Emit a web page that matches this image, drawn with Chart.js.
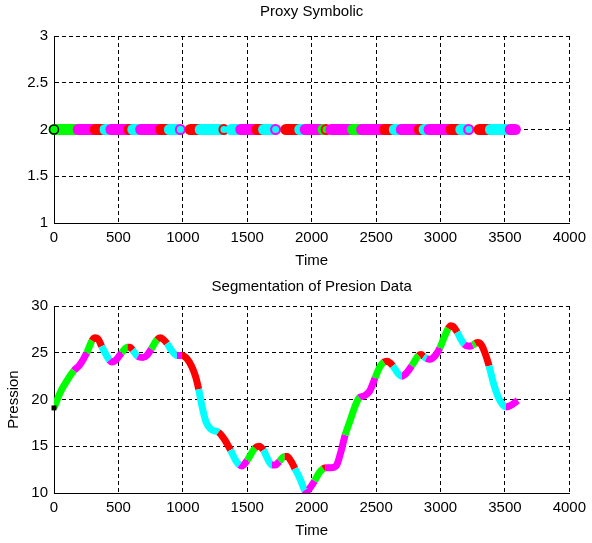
<!DOCTYPE html>
<html>
<head>
<meta charset="utf-8">
<script src="https://cdn.jsdelivr.net/npm/chart.js@4.4.1/dist/chart.umd.min.js"></script>
<style>
  html, body { margin: 0; padding: 0; background: #fff; }
  #wrap { position: relative; width: 592px; height: 543px; overflow: hidden; }
  .box { position: absolute; left: 0; width: 592px; }
  #topBox { top: 0; height: 272px; }
  #botBox { top: 270px; height: 273px; }
</style>
</head>
<body>
<div id="wrap">
  <div class="box" id="topBox"><canvas id="proxy" width="592" height="272"></canvas></div>
  <div class="box" id="botBox"><canvas id="pres" width="592" height="273"></canvas></div>
</div>
<script>
// Axis ticks
const timeTicks = [0, 500, 1000, 1500, 2000, 2500, 3000, 3500, 4000];
const symbolTicks = [1, 1.5, 2, 2.5, 3];
const pressionTicks = [10, 15, 20, 25, 30];

// Symbol colours (MATLAB style)
const PALETTE = { g: '#00ff00', m: '#ff00ff', r: '#ff0000', c: '#00ffff' };

// Proxy symbolic sequence: runs of one symbol, all sitting on level 2.
// A run whose first and last time are equal is a single hollow marker.
const SYMBOL_LEVEL = 2;
const symFirst = [0, 188, 319, 396, 442, 581, 612, 673, 827, 896, 981, 1058, 1135, 1319, 1373, 1450, 1573, 1627, 1720, 1800,
                  1908, 1950, 2089, 2112, 2150, 2319, 2388, 2565, 2642, 2696, 2835, 2873, 2911, 3081, 3158, 3219, 3300, 3388, 3542];
const symLast  = [178, 309, 386, 432, 571, 602, 663, 817, 886, 971, 981, 1125, 1309, 1319, 1440, 1563, 1617, 1710, 1720, 1898,
                  1940, 2079, 2102, 2112, 2309, 2378, 2555, 2632, 2686, 2825, 2863, 2901, 3071, 3148, 3209, 3219, 3378, 3532, 3581];
const symColor = ['g', 'm', 'r', 'c', 'm', 'r', 'c', 'm', 'r', 'c', 'm', 'r', 'c', 'r', 'c', 'm', 'r', 'c', 'm', 'r',
                  'c', 'm', 'g', 'r', 'm', 'g', 'm', 'r', 'c', 'm', 'r', 'c', 'm', 'r', 'c', 'm', 'r', 'c', 'm'];

// Pression signal
const pressTime = [0, 50, 100, 155, 200, 255, 295, 320, 345, 370,
  400, 430, 450, 480, 525, 570, 590, 610, 650, 690,
  720, 755, 800, 825, 850, 877, 910, 954, 992, 1030,
  1070, 1100, 1123, 1150, 1180, 1220, 1277, 1320, 1370, 1410,
  1440, 1460, 1500, 1560, 1590, 1625, 1660, 1690, 1720, 1750,
  1790, 1810, 1840, 1870, 1910, 1946, 1960, 2000, 2023, 2060,
  2090, 2105, 2150, 2190, 2225, 2260, 2300, 2340, 2370, 2410,
  2450, 2492, 2530, 2560, 2585, 2610, 2630, 2670, 2700, 2740,
  2777, 2830, 2850, 2870, 2890, 2920, 2960, 2995, 3030, 3060,
  3080, 3100, 3130, 3160, 3185, 3220, 3250, 3270, 3290, 3320,
  3350, 3377, 3410, 3450, 3480, 3508, 3550, 3600];
const pressValue = [19.1, 20.8, 22.0, 23.1, 23.7, 25.0, 26.3, 26.6, 26.4, 25.7,
  24.9, 24.2, 24.0, 24.2, 25.0, 25.6, 25.6, 25.3, 24.6, 24.5,
  24.7, 25.4, 26.4, 26.6, 26.4, 26.0, 25.3, 24.7, 24.7, 24.4,
  23.5, 22.4, 21.1, 19.2, 17.6, 16.8, 16.5, 15.8, 14.6, 13.5,
  13.0, 12.9, 13.5, 14.8, 15.0, 14.6, 13.6, 13.0, 13.0, 13.4,
  13.9, 13.9, 13.4, 12.6, 11.5, 10.3, 10.2, 10.8, 11.3, 12.2,
  12.6, 12.7, 12.7, 12.9, 14.3, 16.2, 17.8, 19.4, 20.2, 20.4,
  20.9, 22.3, 23.5, 24.0, 24.1, 23.9, 23.6, 22.8, 22.5, 22.9,
  23.6, 24.7, 24.8, 24.6, 24.4, 24.3, 24.7, 25.5, 26.7, 27.6,
  27.9, 27.8, 27.2, 26.4, 25.9, 25.7, 25.8, 26.0, 26.1, 25.8,
  24.8, 23.6, 21.8, 20.2, 19.5, 19.2, 19.4, 19.9];

// Segmentation: start time of each segment and its symbol
const segStart = [0, 155, 255, 295, 370, 430, 525, 570, 610, 650, 755, 800, 877, 954, 992, 1123, 1277, 1370, 1440, 1500,
  1560, 1625, 1690, 1750, 1790, 1870, 1946, 2023, 2090, 2105, 2260, 2370, 2492, 2560, 2630, 2700, 2777, 2830, 2870, 2890,
  2995, 3060, 3130, 3185, 3250, 3270, 3377, 3508];
const segColor = ['g', 'm', 'g', 'r', 'c', 'm', 'g', 'r', 'c', 'm', 'g', 'r', 'c', 'm', 'r', 'c', 'r', 'c', 'm', 'g',
  'r', 'c', 'm', 'g', 'r', 'c', 'm', 'g', 'r', 'm', 'g', 'm', 'g', 'r', 'c', 'm', 'g', 'r', 'c', 'm',
  'g', 'r', 'c', 'm', 'g', 'r', 'c', 'm'];

function segmentColorAt(t) {
  let k = 0;
  for (let i = 0; i < segStart.length; i++) if (segStart[i] <= t) k = i;
  return PALETTE[segColor[k]];
}

const FONT = { family: "'Liberation Sans', Arial, Helvetica, sans-serif", size: 15 };
const INK = '#000';

function gridOpts() {
  return { color: INK, lineWidth: 1, drawTicks: false };
}
function borderOpts() {
  return { display: true, color: INK, width: 1, dash: [4, 3] };
}
function fixedTicks(list) {
  return scale => { scale.ticks = list.map(v => ({ value: v })); };
}
// plain numbers, no thousands separator or forced decimals
const plainLabel = v => String(v);

function xScale(axisHeight, titleBottomPad) {
  return {
    type: 'linear', min: 0, max: 4000,
    afterBuildTicks: fixedTicks(timeTicks),
    afterFit: s => { s.height = axisHeight; },
    grid: gridOpts(), border: borderOpts(),
    ticks: { font: FONT, color: INK, padding: 6, maxRotation: 0, autoSkip: false, callback: plainLabel },
    title: { display: true, text: 'Time', font: FONT, color: INK, padding: { top: 0, bottom: titleBottomPad } }
  };
}

function yScale(min, max, list, title) {
  const s = {
    type: 'linear', min: min, max: max,
    afterBuildTicks: fixedTicks(list),
    afterFit: sc => { sc.width = 54; },
    grid: gridOpts(), border: borderOpts(),
    ticks: { font: FONT, color: INK, padding: 6, autoSkip: false, callback: plainLabel }
  };
  if (title) s.title = { display: true, text: title, font: FONT, color: INK, padding: { top: 4.5, bottom: 0 } };
  return s;
}

function plotTitle(text, padTop, padBottom) {
  // centred over the plotting area rather than the whole canvas
  return { display: true, fullSize: false, text: text, font: { ...FONT, weight: 'normal' }, color: INK,
           padding: { top: padTop, bottom: padBottom } };
}

// ---- Proxy Symbolic ----
const n = symFirst.length;
const proxySets = symFirst.map((t0, i) => {
  const col = PALETTE[symColor[i]];
  const single = symLast[i] === t0;
  return {
    data: single ? [{ x: t0, y: SYMBOL_LEVEL }]
                 : [{ x: t0, y: SYMBOL_LEVEL }, { x: symLast[i], y: SYMBOL_LEVEL }],
    showLine: !single,
    borderColor: col,
    borderWidth: single ? 2 : 11,
    borderCapStyle: 'round',
    pointRadius: single ? 4.5 : 0,
    pointBorderWidth: 2,
    pointBorderColor: col,
    pointBackgroundColor: 'rgba(0,0,0,0)',
    clip: false,
    order: n - i + 1
  };
});
// first sample drawn as a filled marker
proxySets.push({
  data: [{ x: symFirst[0], y: SYMBOL_LEVEL }],
  showLine: false,
  pointRadius: 4.5,
  pointBorderWidth: 1.5,
  pointBorderColor: '#000',
  pointBackgroundColor: PALETTE[symColor[0]],
  clip: false,
  order: 0
});

new Chart(document.getElementById('proxy'), {
  type: 'line',
  data: { datasets: proxySets },
  options: {
    responsive: false, animation: false, events: [],
    layout: { padding: { left: 0, right: 18, top: 0, bottom: 0 } },
    plugins: {
      legend: { display: false }, tooltip: { enabled: false },
      title: plotTitle('Proxy Symbolic', 3, 15)
    },
    scales: { x: xScale(49, 2), y: yScale(1, 3, symbolTicks, null) }
  }
});

// ---- Segmentation of Presion Data ----
new Chart(document.getElementById('pres'), {
  type: 'line',
  data: {
    datasets: [
      {
        data: pressTime.map((t, i) => ({ x: t, y: pressValue[i] })),
        borderWidth: 7,
        borderColor: PALETTE.g,
        borderCapStyle: 'butt',
        borderJoinStyle: 'round',
        cubicInterpolationMode: 'monotone',
        pointRadius: 0,
        fill: false,
        segment: { borderColor: ctx => segmentColorAt(ctx.p0.parsed.x) },
        order: 2
      },
      {
        data: [{ x: pressTime[0], y: pressValue[0] }],
        showLine: false,
        pointStyle: 'rect',
        pointRadius: 3.5,
        pointBorderWidth: 0,
        pointBackgroundColor: '#000',
        clip: false,
        order: 1
      }
    ]
  },
  options: {
    responsive: false, animation: false, events: [],
    layout: { padding: { left: 0, right: 18, top: 0, bottom: 0 } },
    plugins: {
      legend: { display: false }, tooltip: { enabled: false },
      title: plotTitle('Segmentation of Presion Data', 8, 10)
    },
    scales: { x: xScale(50, 3), y: yScale(10, 30, pressionTicks, 'Pression') }
  }
});
</script>
</body>
</html>
